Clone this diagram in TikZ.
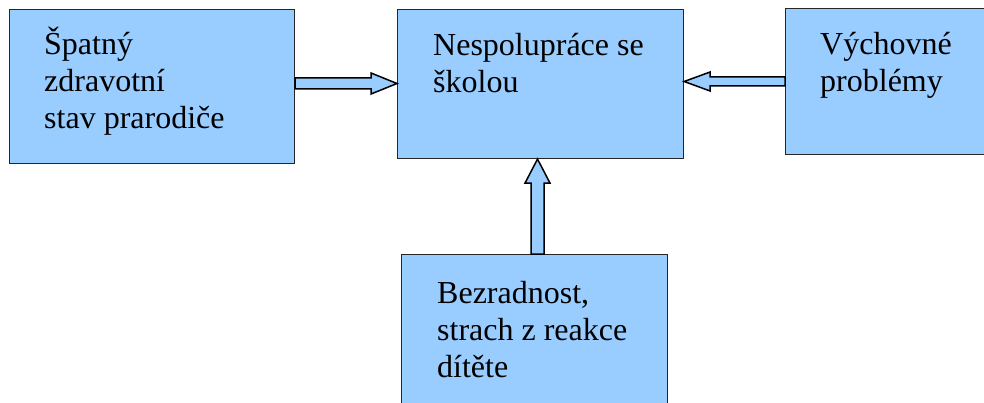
\documentclass[tikz,border=0pt]{standalone}
\usepackage{fontspec}
\newfontfamily\timesfont{LiberationSerif-Regular.ttf}
\usetikzlibrary{calc}
\definecolor{boxblue}{HTML}{99CCFF}
\tikzset{
  box/.style={draw=black!85, fill=boxblue, line width=1.1pt, anchor=north west, inner sep=0pt},
  label/.style={anchor=base west, align=left, inner sep=0pt, font=\timesfont\fontsize{32}{37}\selectfont, text=black},
  barrow/.style={draw=black, fill=boxblue, line width=1.5pt, line join=miter}
}
\newcommand\blockarrow[5]{%
  \coordinate (H) at ($(#2)!#5!(#1)$);
  \draw[barrow] ($(#1)!#3!90:(#2)$) -- ($(H)!#3!90:(#2)$) -- ($(H)!#4!90:(#2)$) -- (#2)
    -- ($(H)!#4!-90:(#2)$) -- ($(H)!#3!-90:(#2)$) -- ($(#1)!#3!-90:(#2)$) -- cycle;}
\begin{document}
\begin{tikzpicture}[x=1pt,y=-1pt]
\useasboundingbox (0,0) rectangle (984,403);
\clip (0,0) rectangle (984,403);
\node[box, minimum width=285pt, minimum height=154pt] (L) at (9,9) {};
\node[box, minimum width=286pt, minimum height=149pt] (C) at (397,9) {};
\node[box, minimum width=220pt, minimum height=146pt] (R) at (785,8) {};
\node[box, minimum width=266pt, minimum height=170pt] (B) at (401,254) {};
\node[label] (Lt) at (44,129) {Špatný\\zdravotní\\stav prarodiče};
\node[label] (Ct) at (433,93) {Nespolupráce se\\školou};
\node[label] (Rt) at (820,92) {Výchovné\\problémy};
\node[label] (Bt) at (437,377) {Bezradnost,\\strach z reakce\\dítěte};
\coordinate (a1) at (L.east |- 0,83.5);
\coordinate (b1) at (C.west |- 0,83.5);
\coordinate (a2) at (R.west |- 0,81.5);
\coordinate (b2) at (C.east |- 0,81.5);
\coordinate (a3) at (537.5,0 |- B.north);
\coordinate (b3) at (537.5,0 |- C.south);
\blockarrow{a1}{b1}{5.5pt}{10.5pt}{26pt}
\blockarrow{a2}{b2}{4.5pt}{9.5pt}{26pt}
\blockarrow{a3}{b3}{6.5pt}{12.5pt}{24pt}
\end{tikzpicture}
\end{document}
